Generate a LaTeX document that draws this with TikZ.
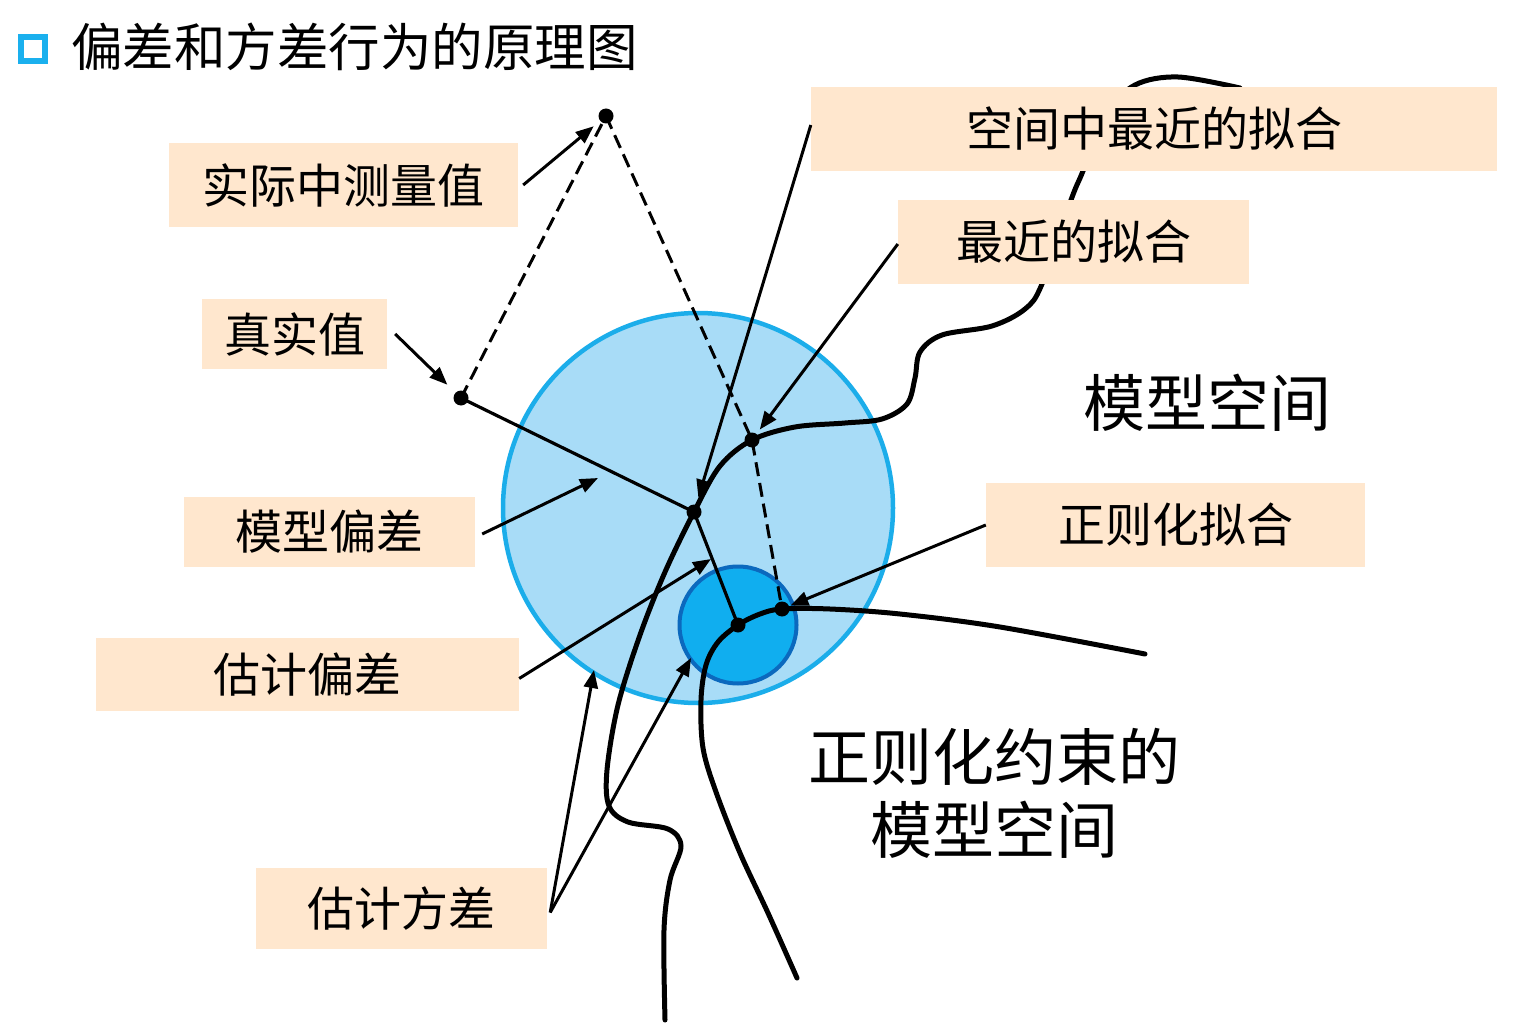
\documentclass[tikz,border=0pt]{standalone}
\usepackage{fontspec}
\setmainfont{Noto Sans CJK SC}
\usetikzlibrary{arrows.meta}
\definecolor{boxc}{HTML}{FFE7CE}
\definecolor{bigfill}{HTML}{A8DCF7}
\definecolor{bigline}{HTML}{1BADEA}
\definecolor{smallfill}{HTML}{10AEEF}
\definecolor{smallline}{HTML}{0B69BE}
\definecolor{iconc}{HTML}{1AB0EE}
\tikzset{
  lbl/.style={fill=boxc, inner sep=0pt, font=\fontsize{47pt}{56pt}\selectfont},
  big/.style={inner sep=0pt, align=center, font=\fontsize{62pt}{73pt}\selectfont},
  curve/.style={line width=5pt, line cap=round},
  ptr/.style={line width=3pt, -{Triangle[length=18pt,width=14pt]}},
  dsh/.style={line width=3pt, dash pattern=on 14pt off 7pt},
  seg/.style={line width=3.2pt},
  dot/.style={circle, fill=black, inner sep=0pt, minimum size=15pt}
}
\begin{document}
\begin{tikzpicture}[x=1pt,y=-1pt]
\useasboundingbox (0,0) rectangle (1520,1032);
% title
\node[draw=iconc, line width=6pt, minimum size=24pt, inner sep=0pt] (icon) at (33,49) {};
\node[anchor=west, inner sep=0pt, font=\fontsize{51.5pt}{60pt}\selectfont] (title) at (71,47) {偏差和方差行为的原理图};
% circles
\node[circle, draw=bigline, fill=bigfill, line width=4.5pt, minimum size=390pt, inner sep=0pt] (bigc) at (698,508) {};
\node[circle, draw=smallline, fill=smallfill, line width=4pt, minimum size=117pt, inner sep=0pt] (smallc) at (738,625) {};
% points
\coordinate (measpt) at (606,116);
\coordinate (truept) at (461,398);
\coordinate (A) at (694,512);
\coordinate (B) at (752,440);
\coordinate (C) at (738,625);
\coordinate (D) at (782,609);
% dashed and solid segments
\draw[dsh] (truept) -- (measpt);
\draw[dsh] (measpt) -- (B) -- (D);
\draw[seg] (truept) -- (A) -- (C);
% curves
\draw[curve] plot[smooth, tension=0.55] coordinates {(665,1020) (664,930) (670,880) (681,846) (668,829) (628,822) (609,806) (607,770) (618,705) (640,635) (665,572) (694,512) (720,466) (752,440) (795,427) (845,423) (882,419) (907,404) (915,378) (920,352) (942,335) (992,326) (1025,309) (1042,284) (1071,200) (1083,171) (1105,115) (1135,85) (1178,77) (1240,88)};
\draw[curve] plot[smooth, tension=0.55] coordinates {(797,978) (768,913) (740,853) (716,792) (703,748) (701,700) (706,665) (718,642) (738,625) (760,614) (782,609) (830,609) (900,614) (1000,627) (1145,654)};
% dots
\foreach \p in {measpt,truept,A,B,C,D} \node[dot] at (\p) {};
% label boxes
\node[lbl, minimum width=349pt, minimum height=84pt] (meas) at (343.5,185) {实际中测量值};
\node[lbl, minimum width=185pt, minimum height=70pt] (truev) at (294.5,334) {真实值};
\node[lbl, minimum width=686pt, minimum height=84pt] (closest) at (1154,129) {空间中最近的拟合};
\node[lbl, minimum width=351pt, minimum height=84pt] (near) at (1073.5,242) {最近的拟合};
\node[lbl, minimum width=291pt, minimum height=70pt] (mbias) at (329.5,532) {模型偏差};
\node[lbl, minimum width=423pt, minimum height=73pt] (ebias) at (307.5,674.5) {估计偏差};
\node[lbl, minimum width=291pt, minimum height=81pt] (evar) at (401.5,908.5) {估计方差};
\node[lbl, minimum width=379pt, minimum height=84pt] (regfit) at (1175.5,525) {正则化拟合};
% big labels
\node[big] (ms) at (1207,403) {模型空间};
\node[big] (rms) at (994,793) {正则化约束的\\模型空间};
% free ends
\coordinate (mbiasend) at (598,478);
\coordinate (ebiasend) at (711,559);
\coordinate (varbig) at (594,670);
\coordinate (varsmall) at (691,658);
% pointers
\draw[ptr, shorten >=16pt] ([xshift=5pt]meas.east) -- (measpt);
\draw[ptr, shorten >=19pt] ([xshift=8pt]truev.east) -- (truept);
\draw[ptr, shorten >=15pt] ([yshift=4pt]closest.west) -- (A);
\draw[ptr, shorten >=13pt] ([yshift=-2pt]near.west) -- (B);
\draw[ptr] ([xshift=7pt,yshift=-2pt]mbias.east) -- (mbiasend);
\draw[ptr] ([yshift=-4pt]ebias.east) -- (ebiasend);
\draw[ptr, shorten >=9pt] (regfit.west) -- (D);
\draw[ptr] ([xshift=3pt,yshift=-4pt]evar.east) -- (varbig);
\draw[ptr] ([xshift=3pt,yshift=-4pt]evar.east) -- (varsmall);
\end{tikzpicture}
\end{document}
